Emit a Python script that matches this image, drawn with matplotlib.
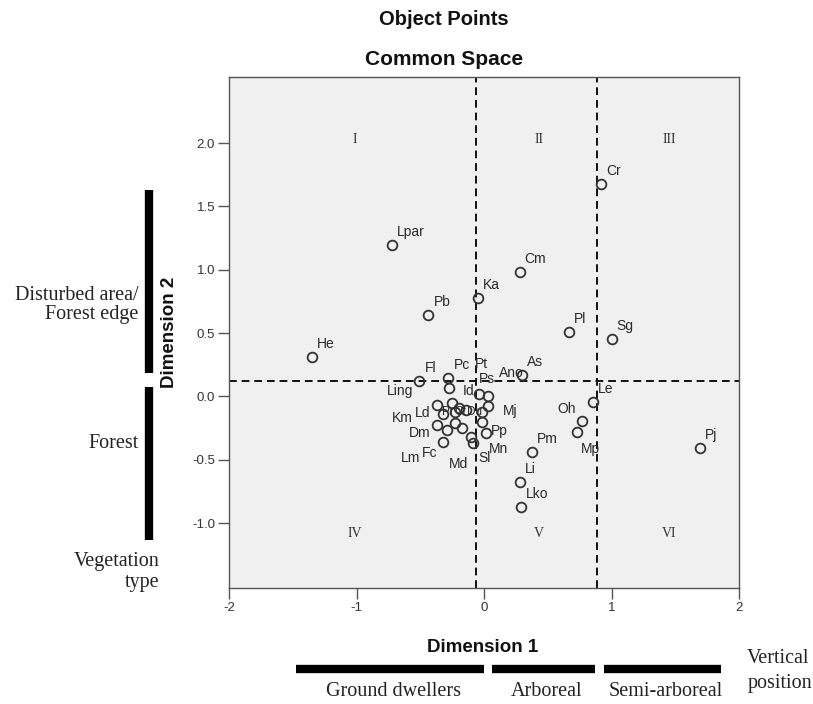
import matplotlib
matplotlib.use("Agg")
import matplotlib.pyplot as plt
import matplotlib.transforms as mtransforms

plt.rcParams['font.family'] = ['Liberation Sans', 'DejaVu Sans']
plt.rcParams['axes.unicode_minus'] = False

# Object points in the common space
names = ['Cr', 'Lpar', 'Cm', 'Ka', 'Pb', 'Pl', 'Sg', 'He', 'Fl', 'Pc', 'As',
         'Le', 'Oh', 'Mp', 'Pm', 'Li', 'Lko', 'Pj',
         'Ling', 'Ps', 'Ano', 'Pt', 'Km', 'Id', 'Pr', 'Du', 'Ld', 'Ct', 'Mj',
         'Dm', 'Lm', '', '', 'Md', 'Sl', 'Pp', 'Mn', 'Fc']
dim1 = [0.916, -0.719, 0.279, -0.051, -0.436, 0.664, 1.002, -1.348, -0.507, -0.279, 0.295,
        0.853, 0.766, 0.727, 0.373, 0.279, 0.287, 1.694,
        -0.271, -0.043, 0.035, 0.028, -0.365, -0.248, -0.200, -0.138, -0.318, -0.224, -0.012,
        -0.365, -0.287, -0.224, -0.169, -0.106, -0.090, -0.012, 0.012, -0.318]
dim2 = [1.676, 1.195, 0.982, 0.777, 0.642, 0.508, 0.453, 0.311, 0.122, 0.145, 0.169,
        -0.044, -0.194, -0.281, -0.439, -0.676, -0.873, -0.407,
        0.066, 0.019, 0.003, -0.076, -0.068, -0.052, -0.092, -0.107, -0.139, -0.123, -0.123,
        -0.226, -0.265, -0.210, -0.249, -0.320, -0.368, -0.202, -0.289, -0.360]

# cut lines dividing the space into six regions
dim1_cuts = [-0.06, 0.89]
dim2_cut = 0.12
regions = ['I', 'II', 'III', 'IV', 'V', 'VI']
region_x = [-1.01, 0.43, 1.45, -1.01, 0.43, 1.45]
region_y = [2.03, 2.03, 2.03, -1.08, -1.08, -1.08]

# vertical position groups along dimension 1
vert_groups = ['Ground dwellers', 'Arboreal', 'Semi-arboreal']
vert_start = [-1.473, 0.059, 0.939]
vert_end = [-0.004, 0.868, 1.859]

# vegetation type groups along dimension 2
veg_groups = ['Disturbed area/\nForest edge', 'Forest']
veg_start = [0.185, -1.133]
veg_end = [1.629, 0.074]
veg_text_y = [0.72, -0.37]

# label placement (pixels from point: dx, dy, alignment)
default_off = (5, 9, 'left')
label_off = {
    'Ling': (-36, -7, 'right'), 'Pt': (-13, 38, 'left'), 'Ano': (10, 19, 'left'),
    'Ps': (0, 11, 'left'), 'Id': (10, 8, 'left'), 'Km': (-25, -17, 'right'),
    'Ld': (-13, -3, 'right'), 'Dm': (-7, -12, 'right'), 'Lm': (-27, -32, 'right'),
    'Fc': (-6, -15, 'right'), 'Md': (-22, -31, 'left'), 'Sl': (6, -19, 'left'),
    'Mn': (3, -20, 'left'), 'Pp': (8, -13, 'left'), 'Mj': (20, -3, 'left'),
    'Oh': (-24, 8, 'left'), 'Mp': (4, -21, 'left'), 'Pr': (-17, -7, 'left'),
    'Ct': (-1, -3, 'left'), 'Du': (1, -5, 'left'),
}
small_labels = ['Pr', 'Ct', 'Du']

fig = plt.figure(figsize=(8.13, 7.04), dpi=100)
ax = fig.add_axes([0.2817, 0.1648, 0.6273, 0.7258])
ax.set_facecolor('#f0f0f0')
for s in ax.spines.values():
    s.set_color('#555555')
    s.set_linewidth(1.0)

dash = (0, (4, 2.5))
for c in dim1_cuts:
    ax.axvline(c, color='#111111', lw=1.4, linestyle=dash, zorder=1)
ax.axhline(dim2_cut, color='#111111', lw=1.4, linestyle=dash, zorder=1)

ax.plot(dim1, dim2, linestyle='none', marker='o', markersize=7,
        markerfacecolor='none', markeredgecolor='#333333', markeredgewidth=1.3, zorder=3)

for n, x, y in zip(names, dim1, dim2):
    if not n:
        continue
    dx, dy, ha = label_off.get(n, default_off)
    fs = 8.5 if n in small_labels else 10
    ax.annotate(n, (x, y), xytext=(dx, dy), textcoords='offset pixels',
                ha=ha, va='baseline', fontsize=fs, color='#2a2a2a', zorder=4)

for r, x, y in zip(regions, region_x, region_y):
    ax.text(x, y, r, ha='center', va='center', fontsize=10,
            family='Liberation Serif', color='#333333')

ax.set_xlim(-2, 2)
ax.set_ylim(-1.513, 2.521)
ax.set_xticks([-2, -1, 0, 1, 2])
ax.set_yticks([-1.0, -0.5, 0.0, 0.5, 1.0, 1.5, 2.0])
ax.set_yticklabels(['-1.0', '-0.5', '0.0', '0.5', '1.0', '1.5', '2.0'])
ax.tick_params(direction='out', length=8, width=1, color='#555555',
               labelsize=9.5, labelcolor='#333333', pad=2)

ax.set_xlabel('Dimension 1', fontsize=13.5, fontweight='bold', color='#111111')
ax.xaxis.set_label_coords(0.498, -0.1)
ax.set_ylabel('Dimension 2', fontsize=13.5, fontweight='bold', color='#111111')
ax.yaxis.set_label_coords(-0.1, 0.5)

fig.text(0.546, 0.9716, 'Object Points', ha='center', va='center',
         fontsize=14.5, fontweight='bold', color='#111111')
fig.text(0.546, 0.9148, 'Common Space', ha='center', va='center',
         fontsize=15, fontweight='bold', color='#111111')

# group bars outside the plot
serif = 'Liberation Serif'
tx = mtransforms.blended_transform_factory(ax.transData, ax.transAxes)
ty = mtransforms.blended_transform_factory(ax.transAxes, ax.transData)

for g, a, b in zip(vert_groups, vert_start, vert_end):
    ax.hlines(-0.158, a, b, colors='black', lw=6, transform=tx, clip_on=False,
              capstyle='butt')
    ax.text((a + b) / 2 + 0.03, -0.2035, g, transform=tx, ha='center', va='center',
            fontsize=14.5, family=serif, color='#222222')
ax.text(1.016, -0.162, 'Vertical\nposition', transform=ax.transAxes, ha='left',
        va='center', fontsize=14.5, family=serif, color='#222222', linespacing=1.45)

for g, a, b, ty_ in zip(veg_groups, veg_start, veg_end, veg_text_y):
    ax.vlines(-0.157, a, b, colors='black', lw=6, transform=ty, clip_on=False,
              capstyle='butt')
    ax.text(-0.178, ty_, g, transform=ty, ha='right', va='center', fontsize=14.5,
            family=serif, color='#222222', linespacing=1.0, multialignment='right')
ax.text(-0.137, 0.031, 'Vegetation\ntype', transform=ax.transAxes, ha='right',
        va='center', fontsize=14.5, family=serif, color='#222222',
        linespacing=1.15, multialignment='right')

fig.savefig('out.png', dpi=100)
